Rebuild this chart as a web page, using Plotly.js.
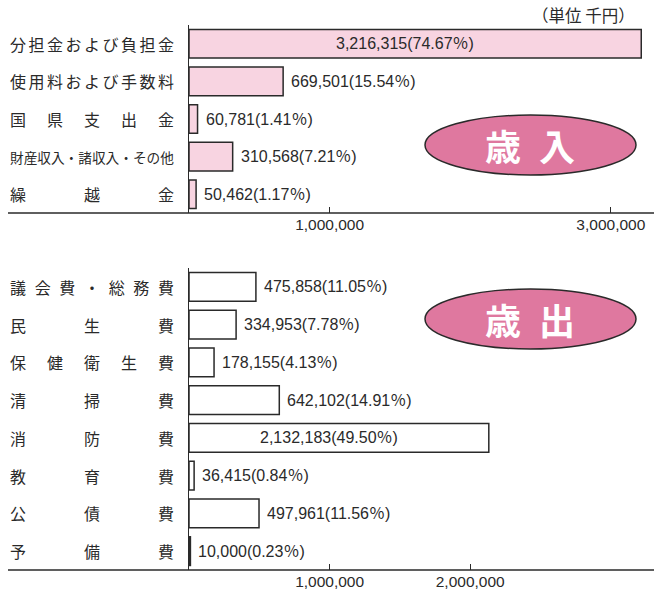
<!DOCTYPE html>
<html>
<head>
<meta charset="utf-8">
<script src="https://cdn.plot.ly/plotly-3.0.1.min.js"></script>
<style>html,body{margin:0;padding:0;background:#fff;}#chart{width:654px;height:590px;}</style>
</head>
<body>
<div id="chart"></div>
<script>
// ---- data ----
const revCats = ['分担金および負担金', '使用料および手数料', '国県支出金', '財産収入・諸収入・その他', '繰越金'];
const revVals = [3216315, 669501, 60781, 310568, 50462];
const revPct  = [74.67, 15.54, 1.41, 7.21, 1.17];

const expCats = ['議会費・総務費', '民生費', '保健衛生費', '清掃費', '消防費', '教育費', '公債費', '予備費'];
const expVals = [475858, 334953, 178155, 642102, 2132183, 36415, 497961, 10000];
const expPct  = [11.05, 7.78, 4.13, 14.91, 49.50, 0.84, 11.56, 0.23];

const revTicks = [1000000, 3000000];
const expTicks = [1000000, 2000000];
const unitLabel = '（単位 千円）';
const revTitle = '歳\u2002入';
const expTitle = '歳\u2002出';

// ---- layout helpers ----
const W = 654, H = 590;
const px = v => v / W;
const py = v => 1 - v / H;
const JP = 'Noto Sans CJK JP, Noto Sans, sans-serif';
const NUM = 'Liberation Sans, Noto Sans CJK JP, sans-serif';
const INK = '#2a2a2a';
const fmt = v => v.toLocaleString('en-US');
const xMax = 3307000;

function barTrace(cats, vals, fill, xa, ya) {
  return {
    type: 'bar', orientation: 'h', y: cats, x: vals,
    xaxis: xa, yaxis: ya, width: 0.76,
    marker: {color: fill, line: {color: INK, width: 1.5}},
    hoverinfo: 'skip', showlegend: false
  };
}

const annotations = [];
function addLabels(cats, yref) {
  cats.forEach(c => {
    const ch = [...c];
    const n = ch.length;
    const fs = Math.min(16, 164 / n);
    const ls = (164 - n * fs) / (n - 1);
    const head = ch.slice(0, -1).join('');
    const tail = ch[n - 1];
    annotations.push({
      xref: 'paper', yref: yref, x: px(8), y: c, xanchor: 'left', yanchor: 'middle',
      text: '<span style="letter-spacing:' + ls.toFixed(2) + 'px">' + head + '</span>' + tail,
      showarrow: false, font: {family: JP, size: fs, color: INK}
    });
  });
}
function addValues(cats, vals, pcts, xref, yref) {
  cats.forEach((c, i) => {
    const inside = vals[i] > 1500000;
    annotations.push({
      xref: xref, yref: yref, y: c,
      x: inside ? vals[i] / 2 : vals[i],
      xanchor: inside ? 'center' : 'left', xshift: inside ? -10 : 6,
      yanchor: 'middle',
      text: fmt(vals[i]) + '(' + pcts[i].toFixed(2) + '％)',
      showarrow: false, font: {family: NUM, size: 16, color: INK}
    });
  });
}
addLabels(revCats, 'y');
addLabels(expCats, 'y2');
addValues(revCats, revVals, revPct, 'x', 'y');
addValues(expCats, expVals, expPct, 'x2', 'y2');

annotations.push({xref: 'paper', yref: 'paper', x: px(637), y: py(15), xanchor: 'right', yanchor: 'middle',
  text: unitLabel, showarrow: false, font: {family: JP, size: 16.5, color: INK}});
annotations.push({xref: 'paper', yref: 'paper', x: px(530), y: py(145), xanchor: 'center', yanchor: 'middle',
  text: '<b>' + revTitle + '</b>', showarrow: false, font: {family: JP, size: 36, color: '#ffffff'}});
annotations.push({xref: 'paper', yref: 'paper', x: px(530), y: py(319), xanchor: 'center', yanchor: 'middle',
  text: '<b>' + expTitle + '</b>', showarrow: false, font: {family: JP, size: 36, color: '#ffffff'}});

const shapes = [
  {type: 'circle', xref: 'paper', yref: 'paper', x0: px(425), x1: px(636), y0: py(175), y1: py(115),
   fillcolor: '#df789f', line: {color: INK, width: 1.5}, layer: 'below'},
  {type: 'circle', xref: 'paper', yref: 'paper', x0: px(425), x1: px(636), y0: py(349), y1: py(289),
   fillcolor: '#df789f', line: {color: INK, width: 1.5}, layer: 'below'},
  {type: 'line', xref: 'paper', yref: 'y domain', x0: px(8), x1: 1, y0: 0, y1: 0, line: {color: INK, width: 1.5}},
  {type: 'line', xref: 'paper', yref: 'y2 domain', x0: px(8), x1: 1, y0: 0, y1: 0, line: {color: INK, width: 1.5}}
];

function xAxis(ticks, anchor) {
  return {
    domain: [px(189), 1], range: [0, xMax], anchor: anchor,
    tickvals: ticks, ticktext: ticks.map(fmt),
    ticks: 'inside', ticklen: 6, tickwidth: 1.2, tickcolor: INK,
    showgrid: false, zeroline: false, showline: false, fixedrange: true,
    tickfont: {family: NUM, size: 15.5, color: INK}
  };
}
function yAxis(cats, dom, anchor) {
  return {
    domain: dom, anchor: anchor, type: 'category',
    categoryorder: 'array', categoryarray: cats, autorange: 'reversed',
    showticklabels: false, ticks: '', showgrid: false, zeroline: false,
    showline: true, linecolor: INK, linewidth: 1.5, fixedrange: true
  };
}

const layout = {
  width: W, height: H,
  margin: {l: 0, r: 0, t: 0, b: 0},
  paper_bgcolor: '#ffffff', plot_bgcolor: 'rgba(0,0,0,0)',
  bargap: 0.24, showlegend: false,
  xaxis: xAxis(revTicks, 'y'),
  yaxis: yAxis(revCats, [py(213), py(25)], 'x'),
  xaxis2: xAxis(expTicks, 'y2'),
  yaxis2: yAxis(expCats, [py(570), py(268)], 'x2'),
  annotations: annotations,
  shapes: shapes
};

Plotly.newPlot('chart', [
  barTrace(revCats, revVals, '#f8d4e1', 'x', 'y'),
  barTrace(expCats, expVals, '#ffffff', 'x2', 'y2')
], layout, {staticPlot: true, displayModeBar: false});
</script>
</body>
</html>
